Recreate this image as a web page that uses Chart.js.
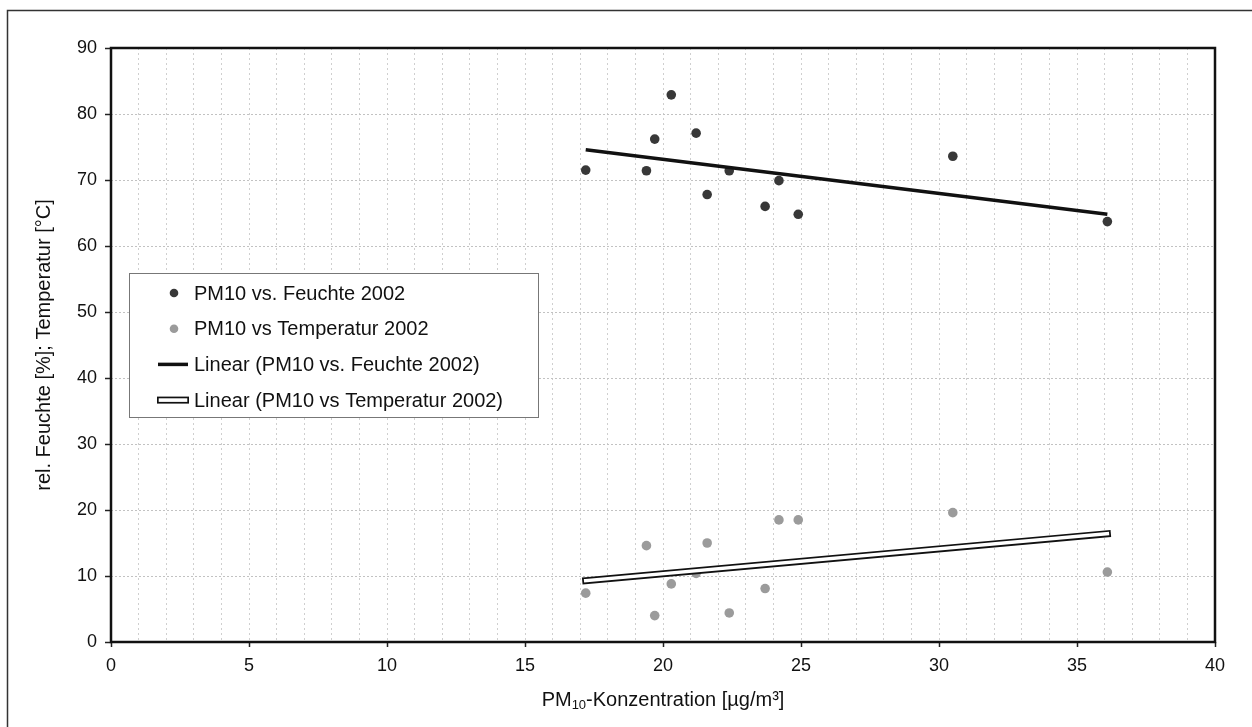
<!DOCTYPE html>
<html>
<head>
<meta charset="utf-8">
<script src="https://cdn.jsdelivr.net/npm/chart.js@4.4.1/dist/chart.umd.min.js"></script>
<style>
  html, body { margin: 0; padding: 0; background: #fff; }
  canvas { display: block; }
</style>
</head>
<body>
<canvas id="chart" width="1252" height="727"></canvas>
<script>
// PM10 vs. Feuchte / Temperatur 2002
const pm10       = [17.2, 19.4, 19.7, 20.3, 21.2, 21.6, 22.4, 23.7, 24.2, 24.9, 30.5, 36.1];
const feuchte    = [71.5, 71.4, 76.2, 82.9, 77.1, 67.8, 71.4, 66.0, 69.9, 64.8, 73.6, 63.7];
const temperatur = [7.4, 14.6, 4.0, 8.8, 10.4, 15.0, 4.4, 8.1, 18.5, 18.5, 19.6, 10.6];

// trend line end points
const trendX          = [17.2, 36.1];
const trendFeuchte    = [74.6, 64.8];
const trendTemperatur = [9.3, 16.4];

const xTicks = [0, 5, 10, 15, 20, 25, 30, 35, 40];
const yTicks = [0, 10, 20, 30, 40, 50, 60, 70, 80, 90];

const FONT = '"Liberation Sans", Arial, sans-serif';

function pts(xs, ys) {
  return xs.map((x, i) => ({ x: x, y: ys[i] }));
}

const decor = {
  id: 'decor',
  beforeDraw(chart) {
    const ctx = chart.ctx;
    ctx.save();
    ctx.fillStyle = '#fff';
    ctx.fillRect(0, 0, chart.width, chart.height);
    ctx.strokeStyle = '#333';
    ctx.lineWidth = 1.5;
    ctx.strokeRect(7.5, 10.5, chart.width + 50, chart.height + 50);
    ctx.restore();
  },
  afterDatasetsDraw(chart) {
    const ctx = chart.ctx;
    const a = chart.chartArea;
    ctx.save();

    // plot frame
    ctx.strokeStyle = '#111';
    ctx.lineWidth = 2.5;
    ctx.strokeRect(a.left, a.top, a.right - a.left, a.bottom - a.top);

    // legend box
    const bx = a.left + 18, by = a.top + 225, bw = 409, bh = 144;
    ctx.fillStyle = '#fff';
    ctx.fillRect(bx, by, bw, bh);
    ctx.strokeStyle = '#777';
    ctx.lineWidth = 1;
    ctx.strokeRect(bx + 0.5, by + 0.5, bw, bh);

    ctx.font = '20px ' + FONT;
    ctx.textBaseline = 'middle';
    ctx.textAlign = 'left';
    let row = 0;
    chart.data.datasets.forEach(ds => {
      if (!ds.legend) return;
      const y = by + 20 + row * 35.7;
      if (ds.legend === 'dot') {
        ctx.fillStyle = ds.backgroundColor;
        ctx.beginPath();
        ctx.arc(bx + 45, y, 4.3, 0, Math.PI * 2);
        ctx.fill();
      } else if (ds.legend === 'line') {
        ctx.strokeStyle = ds.borderColor;
        ctx.lineWidth = 3.5;
        ctx.beginPath();
        ctx.moveTo(bx + 29, y);
        ctx.lineTo(bx + 59, y);
        ctx.stroke();
      } else {
        // outlined bar for the double trend line
        ctx.fillStyle = '#111';
        ctx.fillRect(bx + 28, y - 3.5, 32, 7);
        ctx.fillStyle = '#fff';
        ctx.fillRect(bx + 29.7, y - 1.8, 28.6, 3.6);
      }
      ctx.fillStyle = '#111';
      ctx.fillText(ds.label, bx + 65, y + 1);
      row++;
    });

    // y axis title
    ctx.fillStyle = '#111';
    ctx.font = '20px ' + FONT;
    ctx.textAlign = 'center';
    ctx.translate(44, (a.top + a.bottom) / 2);
    ctx.rotate(-Math.PI / 2);
    ctx.fillText('rel. Feuchte [%]; Temperatur [°C]', 0, 0);
    ctx.setTransform(1, 0, 0, 1, 0, 0);

    // x axis title with subscript
    const parts = [
      { t: 'PM', f: '20px ' + FONT, dy: 0 },
      { t: '10', f: '13px ' + FONT, dy: 5 },
      { t: '-Konzentration [µg/m³]', f: '20px ' + FONT, dy: 0 }
    ];
    let total = 0;
    parts.forEach(p => { ctx.font = p.f; p.w = ctx.measureText(p.t).width; total += p.w; });
    let x = (a.left + a.right) / 2 - total / 2;
    ctx.textAlign = 'left';
    parts.forEach(p => {
      ctx.font = p.f;
      ctx.fillText(p.t, x, 700 + p.dy);
      x += p.w;
    });

    ctx.restore();
  }
};

new Chart(document.getElementById('chart'), {
  type: 'scatter',
  data: {
    datasets: [
      {
        label: 'PM10 vs. Feuchte 2002',
        legend: 'dot',
        data: pts(pm10, feuchte),
        backgroundColor: '#383838',
        borderWidth: 0,
        pointRadius: 4.8,
        order: 2
      },
      {
        label: 'PM10 vs Temperatur 2002',
        legend: 'dot',
        data: pts(pm10, temperatur),
        backgroundColor: '#9b9b9b',
        borderWidth: 0,
        pointRadius: 4.8,
        order: 2
      },
      {
        label: 'Linear (PM10 vs. Feuchte 2002)',
        type: 'line',
        legend: 'line',
        data: pts(trendX, trendFeuchte),
        borderColor: '#111',
        borderWidth: 3.5,
        pointRadius: 0,
        fill: false,
        order: 0
      },
      {
        label: 'Linear (PM10 vs Temperatur 2002)',
        type: 'line',
        legend: 'double',
        data: pts(trendX, trendTemperatur),
        borderColor: '#111',
        borderWidth: 7,
        borderCapStyle: 'square',
        pointRadius: 0,
        fill: false,
        order: 1
      },
      {
        // white core of the double trend line
        label: '',
        type: 'line',
        data: pts(trendX, trendTemperatur),
        borderColor: '#fff',
        borderWidth: 3.5,
        borderCapStyle: 'square',
        pointRadius: 0,
        fill: false,
        order: 0
      }
    ]
  },
  options: {
    responsive: false,
    animation: false,
    layout: { padding: { top: 48, right: 37, left: 0, bottom: 0 } },
    scales: {
      x: {
        type: 'linear',
        min: xTicks[0],
        max: xTicks[xTicks.length - 1],
        afterFit: s => { s.height = 85; },
        ticks: {
          stepSize: 1,
          autoSkip: false,
          maxRotation: 0,
          padding: 8,
          color: '#111',
          font: { family: FONT, size: 18 },
          callback: v => (xTicks.includes(v) ? v : '')
        },
        grid: {
          color: '#cfcfcf',
          lineWidth: 1,
          tickLength: 5,
          tickWidth: 1.5,
          tickColor: c => (xTicks.includes(c.tick.value) ? '#222' : 'rgba(0,0,0,0)')
        },
        border: { display: false, dash: [2, 3] }
      },
      y: {
        min: yTicks[0],
        max: yTicks[yTicks.length - 1],
        afterFit: s => { s.width = 111; },
        ticks: {
          stepSize: 10,
          padding: 8,
          color: '#111',
          font: { family: FONT, size: 18 }
        },
        grid: {
          color: '#c2c2c2',
          lineWidth: 1,
          tickLength: 6,
          tickWidth: 1.5,
          tickColor: '#222'
        },
        border: { display: false, dash: [2, 2] }
      }
    },
    plugins: {
      legend: { display: false },
      tooltip: { enabled: false }
    }
  },
  plugins: [decor]
});
</script>
</body>
</html>
